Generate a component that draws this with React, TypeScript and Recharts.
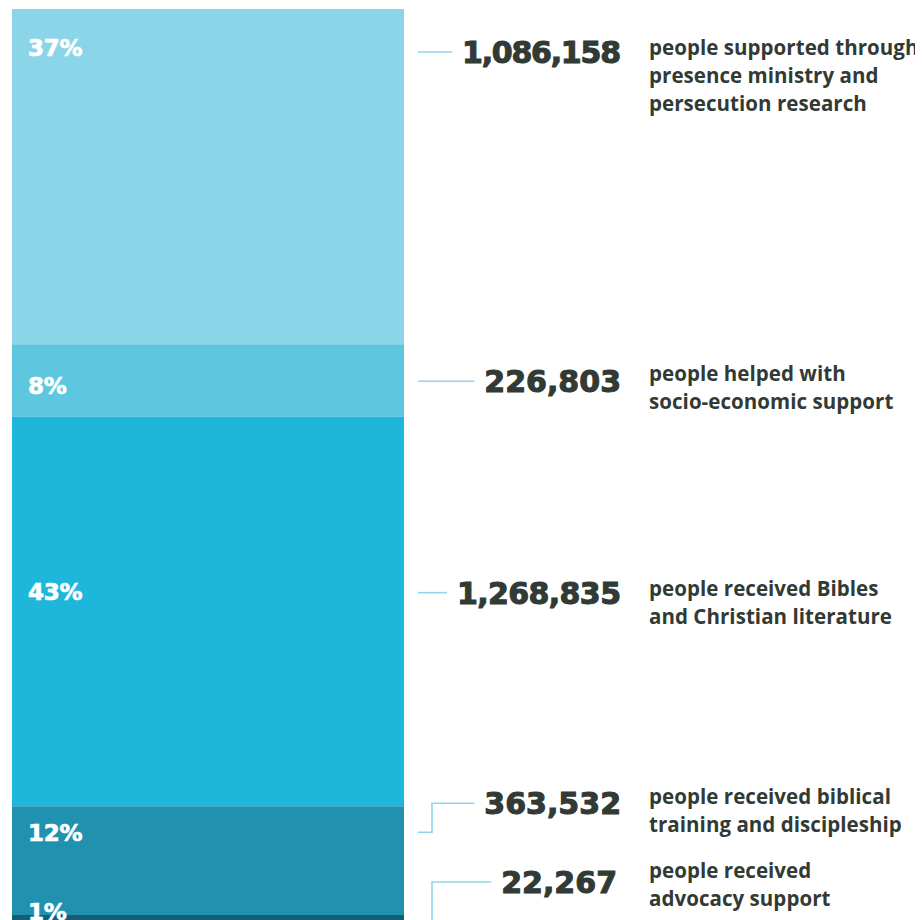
import React from 'react';
import { BarChart, Bar, XAxis, YAxis, LabelList } from 'recharts';

// ---- data ----
const categories = ['Ministry reach'];
const seriesKeys = ['presence', 'socioEconomic', 'bibles', 'training', 'advocacy'];
const percentShares = [37, 8, 43, 12, 1];
const peopleCounts = [1086158, 226803, 1268835, 363532, 22267];
const descriptions = [
  ['people supported through', 'presence ministry and', 'persecution research'],
  ['people helped with', 'socio-economic support'],
  ['people received Bibles', 'and Christian literature'],
  ['people received biblical', 'training and discipleship'],
  ['people received', 'advocacy support'],
];

// ---- styles / layout ----
const segmentColors = ['#8BD5E9', '#5EC7E0', '#1EB6DA', '#2092B0', '#175E75'];
const textColor = '#323A35';
const lineColor = '#8FD6EA';
const pctDy = [38, 41, 175, 26, -3]; // percent label centre below segment top
const numDy = [43, 37, 176, -3, -33]; // number centre relative to segment top
const linkDy = [43, 37, 176, 26, 10]; // connector start relative to segment top
const descDy = [-4, -7, -4, -6, -11]; // description first-line centre relative to number centre
const numRightDx = [217, 217, 217, 217, 213];

const data = categories.map((name) => {
  const row: Record<string, any> = { name };
  seriesKeys.forEach((k, i) => {
    row[k] = percentShares[i];
  });
  return row;
});

const NUM_FONT = 30;
const glyphW = (ch: string) => (ch === ',' ? 0.38 * NUM_FONT : ch === '1' ? 0.696 * NUM_FONT - 5 : 0.696 * NUM_FONT);
const estNumWidth = (s: string) => s.split('').reduce((acc, ch) => acc + glyphW(ch), 0);

const makeLabel = (i: number) => (props: any) => {
  const vb = props.viewBox && props.viewBox.width != null ? props.viewBox : props;
  const x = Number(vb.x);
  const y = Number(vb.y);
  const w = Number(vb.width);
  const h = Number(vb.height);
  const top = Math.min(y, y + h);
  const right = x + w;
  const pctY = top + pctDy[i];
  const numY = top + numDy[i];
  const linkY = top + linkDy[i];
  const numRight = right + numRightDx[i];
  const numStr = peopleCounts[i].toLocaleString('en-US');
  const numW = estNumWidth(numStr);
  const numLeft = numRight - numW;
  const lineEnd = numLeft - 10;
  const x0 = right + 14;
  const xe = right + 28;
  const path =
    Math.abs(linkY - numY) < 8
      ? `M${x0},${numY}H${lineEnd}`
      : `M${x0},${linkY}H${xe}V${numY}H${lineEnd}`;
  const descX = right + 245;
  const descBase = numY + descDy[i] + 7;
  return (
    <g>
      <text
        x={x + 16}
        y={pctY + 8.5}
        fill="#FFFFFF"
        stroke="#FFFFFF"
        strokeWidth={0.7}
        fontFamily="'DejaVu Sans', sans-serif"
        fontWeight={700}
        fontSize={23}
        letterSpacing={-0.3}
      >
        {`${percentShares[i]}%`}
      </text>
      <path d={path} fill="none" stroke={lineColor} strokeWidth={1.6} />
      <text
        x={numLeft}
        y={numY + 11}
        textLength={numW}
        lengthAdjust="spacing"
        fill={textColor}
        stroke={textColor}
        strokeWidth={1.1}
        fontFamily="'DejaVu Sans', sans-serif"
        fontWeight={700}
        fontSize={NUM_FONT}
      >
        {numStr}
      </text>
      {descriptions[i].map((line, j) => (
        <text
          key={j}
          x={descX}
          y={descBase + j * 28}
          fill={textColor}
          fontFamily="'Open Sans', sans-serif"
          fontWeight={700}
          fontSize={20.5}
          letterSpacing={0.05}
        >
          {line}
        </text>
      ))}
    </g>
  );
};

export default function App() {
  return (
    <BarChart
      width={915}
      height={920}
      data={data}
      margin={{ top: 1, right: 519, bottom: 4, left: 4 }}
      barCategoryGap={0}
      style={{ overflow: 'visible' }}
    >
      <XAxis dataKey="name" type="category" hide />
      <YAxis type="number" hide reversed domain={[0, 'dataMax']} />
      {seriesKeys.map((k, i) => (
        <Bar key={k} dataKey={k} stackId="a" fill={segmentColors[i]} isAnimationActive={false}>
          <LabelList dataKey={k} content={makeLabel(i)} />
        </Bar>
      ))}
    </BarChart>
  );
}
